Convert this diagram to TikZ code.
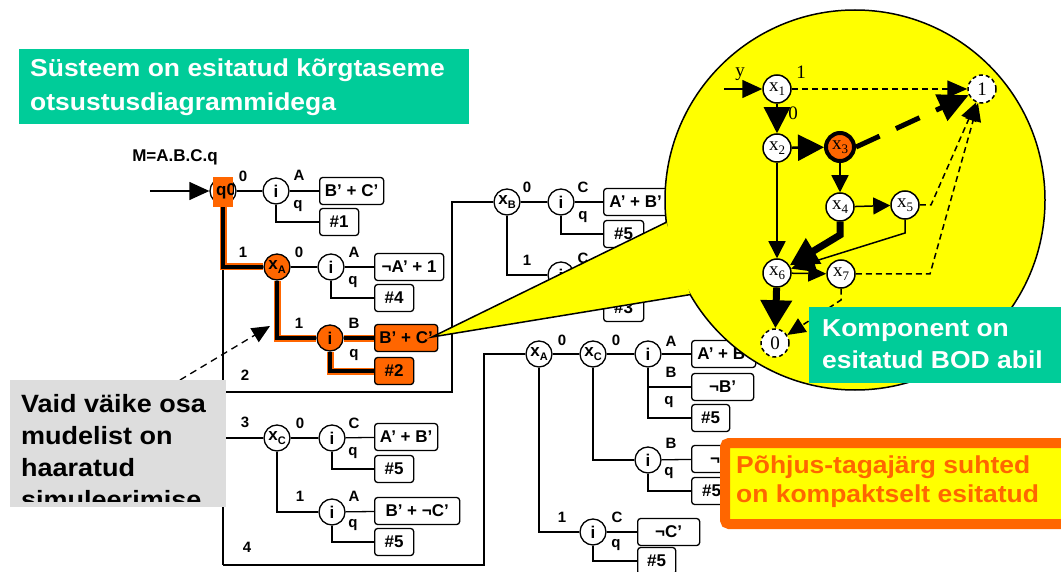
\documentclass[tikz,border=0pt]{standalone}
\usepackage{fontspec}
\setmainfont{Liberation Sans}
\newfontfamily\bddfont{Liberation Serif}
\newfontfamily\callfont[FakeStretch=1.08]{Liberation Sans}
\usetikzlibrary{arrows.meta}
\definecolor{hor}{RGB}{255,102,0}
\definecolor{cyel}{RGB}{255,255,0}
\definecolor{cgreen}{RGB}{0,204,153}
\definecolor{cgray}{RGB}{221,221,221}
\newcommand\treefont{\fontsize{17}{17}\selectfont\bfseries}
\newcommand\lblfont{\fontsize{15}{15}\selectfont\bfseries}
\newcommand\boxfont{\fontsize{17}{17}\selectfont\bfseries}
\newcommand\bddtext{\bddfont\fontsize{19}{19}\selectfont}
\newcommand\calltxt{\callfont\bfseries\fontsize{24.5}{24.5}\selectfont}
\newcommand\xs[1]{x\raisebox{-0.35ex}{\fontsize{11}{11}\selectfont #1}}
\newcommand\bx[1]{x\raisebox{-0.45ex}{\fontsize{13}{13}\selectfont #1}}
\begin{document}
\begin{tikzpicture}[x=1pt,y=-1pt,
  wire/.style={line width=1.3pt},
  hl/.style={line width=4pt, preaction={draw=hor,line width=7pt}},
  tnode/.style={circle,draw,fill=white,line width=1.3pt,minimum size=26pt,inner sep=0pt,font=\treefont},
  hnode/.style={tnode,fill=hor},
  tbox/.style={draw,fill=white,rounded corners=3pt,line width=1.3pt,minimum height=27pt,inner sep=0pt,anchor=west,font=\boxfont},
  hbox/.style={tbox,fill=hor},
  lbl/.style={inner sep=0pt,font=\lblfont},
  bnode/.style={circle,draw,fill=white,line width=1.5pt,minimum size=28pt,inner sep=0pt,font=\bddtext},
  bterm/.style={bnode,dash pattern=on 4pt off 3pt},
  blbl/.style={inner sep=0pt,font=\bddtext},
  thinarr/.style={line width=1.5pt,-{Triangle[length=17pt,width=17pt]}},
  dtarr/.style={line width=1.5pt,dash pattern=on 6pt off 4pt,-{Triangle[length=18pt,width=16pt]}},
  ctext/.style={inner sep=0pt,anchor=base west,font=\calltxt}
]
\clip (0,0) rectangle (1061,572);
\fill[white] (0,0) rectangle (1061,572);

% ---------------- main tree ----------------
\node[lbl,font=\fontsize{17}{17}\selectfont\bfseries] (mlabel) at (175,157) {M=A.B.C.q};

\node[tnode] (i1) at (276,191) {i};
\node[tbox,minimum width=64pt] (b1) at (319,191) {B’ + C’};
\node[tbox,minimum width=39pt] (h1) at (319,222) {\#1};

\node[hnode] (xA) at (277,267) {\xs{A}};
\node[tnode] (i2) at (331,267) {i};
\node[tbox,minimum width=69pt] (b2) at (374,267) {¬A’ + 1};
\node[tbox,minimum width=39pt] (h2) at (374,298) {\#4};

\node[hnode] (i3) at (330,338) {i};
\node[hbox,minimum width=63pt] (b3) at (374,338) {B’ + C’};
\node[hbox,minimum width=39pt] (h3) at (374,371) {\#2};

\node[tnode] (xB) at (507,202) {\xs{B}};
\node[tnode] (i4) at (561,202) {i};
\node[tbox,minimum width=64pt] (b4) at (603,202) {A’ + B’};
\node[tbox,minimum width=40pt] (h4) at (603,234) {\#5};
\node[tnode] (i5) at (561,275) {i};
\node[tbox,minimum width=64pt] (b5) at (603,275) {};
\node[tbox,minimum width=40pt] (h5) at (603,308) {\#3};

\node[tnode] (xC1) at (277,438) {\xs{C}};
\node[tnode] (i6) at (332,438) {i};
\node[tbox,minimum width=63pt] (b6) at (374,437) {A’ + B’};
\node[tbox,minimum width=39pt] (h6) at (374,469) {\#5};
\node[tnode] (i7) at (332,512) {i};
\node[tbox,minimum width=85pt] (b7) at (374,511) {B’ + ¬C’};
\node[tbox,minimum width=39pt] (h7) at (374,542) {\#5};

\node[tnode] (xA2) at (539,354) {\xs{A}};
\node[tnode] (xC2) at (593,354) {\xs{C}};
\node[tnode] (i8) at (648,354) {i};
\node[tbox,minimum width=64pt] (b8) at (691,354) {A’ + B’};
\node[tbox,minimum width=62pt] (b8b) at (691,387) {¬B’};
\node[tbox,minimum width=38pt] (h8) at (691,418) {\#5};
\node[tnode] (i9) at (648,460) {i};
\node[tbox,minimum width=64pt] (b9) at (691,459) {¬B’};
\node[tbox,minimum width=40pt] (h9) at (691,491) {\#5};
\node[tnode] (i10) at (593,532) {i};
\node[tbox,minimum width=62pt] (b10) at (637,532) {¬C’};
\node[tbox,minimum width=38pt] (h10) at (637,561) {\#5};

% q0 node with orange cover
\node[tnode] (q0) at (223,191) {};
\node[fill=hor,minimum width=20pt,minimum height=30pt,inner sep=0pt] (q0box) at (223,192) {};
\begin{scope}
\clip (q0box.south west) rectangle (q0box.north east);
\node[font=\treefont,inner sep=0pt,anchor=west] (q0t) at (216,191) {q0};
\end{scope}
\coordinate (qin) at (150,191);
\draw[wire,-{Triangle[length=20pt,width=18pt]}] (qin) -- (q0);

% main spine
\coordinate (m1) at (223,267);
\coordinate (m2) at (223,392);
\coordinate (m3) at (223,438);
\coordinate (m4) at (223,565);
\coordinate (k2) at (452,392);
\coordinate (k4) at (484,565);
\draw[wire] (m1) -- (m4);
\draw[wire] (m2) -- (k2) |- (xB);
\draw[wire] (m3) -- (xC1);
\draw[wire] (m4) -- (k4) |- (xA2);

% subtree wires
\draw[wire] (q0) -- (i1);
\draw[wire] (i1) -- (b1);
\draw[wire] (i1) |- (h1);
\draw[wire] (xA) -- (i2);
\draw[wire] (i2) -- (b2);
\draw[wire] (i2) |- (h2);
\draw[wire] (xB) -- (i4);
\draw[wire] (i4) -- (b4);
\draw[wire] (i4) |- (h4);
\draw[wire] (xB) |- (i5);
\draw[wire] (i5) -- (b5);
\draw[wire] (i5) |- (h5);
\draw[wire] (xC1) -- (i6);
\draw[wire] (i6) -- (b6);
\draw[wire] (i6) |- (h6);
\draw[wire] (xC1) |- (i7);
\draw[wire] (i7) -- (b7);
\draw[wire] (i7) |- (h7);
\draw[wire] (xA2) -- (xC2);
\draw[wire] (xC2) -- (i8);
\draw[wire] (i8) -- (b8);
\draw[wire] (i8) |- (h8);
\draw[wire] (i8 |- b8b) -- (b8b);
\draw[wire] (xC2) |- (i9);
\draw[wire] (i9) -- (b9);
\draw[wire] (i9) |- (h9);
\draw[wire] (xA2) |- (i10);
\draw[wire] (i10) -- (b10);
\draw[wire] (i10) |- (h10);

% highlighted path
\draw[hl] (q0box.south) |- (xA);
\draw[hl] (xA) |- (i3);
\draw[hl] (i3) -- (b3);
\draw[hl] (i3) |- (h3);

% labels
\node[lbl] (la1) at (243,176) {0};
\node[lbl] (la2) at (299,175) {A};
\node[lbl] (la3) at (298,206) {q};
\node[lbl] (la4) at (243,252) {1};
\node[lbl] (la5) at (299,252) {0};
\node[lbl] (la6) at (354,252) {A};
\node[lbl] (la7) at (353,282) {q};
\node[lbl] (la8) at (299,323) {1};
\node[lbl] (la9) at (354,323) {B};
\node[lbl] (la10) at (354,355) {q};
\node[lbl] (la11) at (245,375) {2};
\node[lbl] (la12) at (245,422) {3};
\node[lbl] (la13) at (300,423) {0};
\node[lbl] (la14) at (354,423) {C};
\node[lbl] (la15) at (353,453) {q};
\node[lbl] (la16) at (300,496) {1};
\node[lbl] (la17) at (354,496) {A};
\node[lbl] (la18) at (353,525) {q};
\node[lbl] (la19) at (247,547) {4};
\node[lbl] (lb1) at (527,187) {0};
\node[lbl] (lb2) at (583,187) {C};
\node[lbl] (lb3) at (583,217) {q};
\node[lbl] (lb4) at (527,260) {1};
\node[lbl] (lb5) at (583,258) {C};
\node[lbl] (lb6) at (583,290) {q};
\node[lbl] (lc1) at (562,340) {0};
\node[lbl] (lc2) at (616,340) {0};
\node[lbl] (lc3) at (671,341) {A};
\node[lbl] (lc4) at (671,372) {B};
\node[lbl] (lc5) at (669,402) {q};
\node[lbl] (lc6) at (671,443) {B};
\node[lbl] (lc7) at (669,473) {q};
\node[lbl] (lc8) at (562,517) {1};
\node[lbl] (lc9) at (617,517) {C};
\node[lbl] (lc10) at (616,545) {q};

% dashed pointer and grey note
\coordinate (da) at (180,380);
\coordinate (db) at (270,326);
\draw[line width=1.3pt,dash pattern=on 7pt off 5pt,-{Triangle[length=18pt,width=16pt]}] (da) -- (db);
\node[fill=cgray,inner sep=0pt,minimum width=216pt,minimum height=127pt,anchor=north west] (gbox) at (10,380) {};
\begin{scope}
\clip (10,380) rectangle (226,501);
\node[ctext,font=\callfont\bfseries\fontsize{25}{25}\selectfont] (g1) at (21,412) {Vaid väike osa};
\node[ctext,font=\callfont\bfseries\fontsize{25}{25}\selectfont] (g2) at (21,444) {mudelist on};
\node[ctext,font=\callfont\bfseries\fontsize{25}{25}\selectfont] (g3) at (21,476) {haaratud};
\node[ctext,font=\callfont\bfseries\fontsize{25}{25}\selectfont] (g4) at (21,508) {simuleerimise};
\end{scope}

% ---------------- yellow callout ----------------
\coordinate (cc) at (855,200);
\coordinate (tip) at (432,337);
\coordinate (wu) at (666.3,222.3);
\coordinate (wl) at (690.2,294.6);
\fill[cyel] (cc) circle[radius=190pt];
\draw[line width=1.5pt] (cc) circle[radius=190pt];
\fill[cyel] (tip) -- (wu) -- (wl) -- cycle;
\draw[line width=1.5pt,line join=miter] (wu) -- (tip) -- (wl);

% BDD
\node[bnode] (x1) at (777,89) {\bx{1}};
\node[bterm] (one) at (982,89) {1};
\node[bnode] (x2) at (777,148) {\bx{2}};
\node[bnode,fill=hor,line width=4pt] (x3) at (840,147) {\bx{3}};
\node[bnode] (x4) at (840,207) {\bx{4}};
\node[bnode] (x5) at (905,205) {\bx{5}};
\node[bnode] (x6) at (777,273) {\bx{6}};
\node[bnode] (x7) at (841,274) {\bx{7}};
\node[bterm] (zero) at (775,343) {0};
\node[blbl] (ly) at (740,74) {y};
\node[blbl] (l1) at (801,72) {1};
\node[blbl] (l0) at (793,113) {0};

\coordinate (yin) at (724,89);
\draw[line width=1.5pt,-{Triangle[length=20pt,width=18pt]}] (yin) -- (x1);
\draw[line width=1.5pt,dash pattern=on 6pt off 4pt,-{Triangle[length=20pt,width=17pt]}] (x1) -- (one);
\draw[line width=2.5pt,-{Triangle[length=26pt,width=26pt]}] (x1) -- (x2);
\draw[line width=2.5pt,-{Triangle[length=26pt,width=26pt]}] (x2) -- (x3);
\draw[line width=5pt,dash pattern=on 26pt off 18pt,-{Triangle[length=30pt,width=28pt]}] (x3.east) -- (one);
\draw[thinarr] (x3) -- (x4);
\draw[thinarr] (x4) -- (x5);
\coordinate (b5) at (931,205);
\coordinate (b7) at (930,274);
\draw[dtarr] (x5.east) -- (b5) -- (one);
\draw[dtarr] (x7.east) -- (b7) -- (one);
\draw[thinarr] (x2) -- (x6);
\coordinate (b4) at (840,235);
\coordinate (b5s) at (905,233);
\draw[line width=1.5pt,-{Triangle[length=24pt,width=22pt]}] (x5.south) -- (b5s) -- (x6);
\draw[line width=7pt,-{Triangle[length=28pt,width=28pt]}] (x4.south) -- (b4) -- (x6);
\draw[line width=1.5pt,-{Triangle[length=18pt,width=16pt]}] (x6) -- (x7);
\draw[line width=7pt,-{Triangle[length=28pt,width=30pt]}] (x6) -- (zero);
\coordinate (b7s) at (841,300);
\draw[dtarr] (x7.south) -- (b7s) -- (zero);

% green BOD note
\node[fill=cgreen,inner sep=0pt,minimum width=252pt,minimum height=76pt,anchor=north west] (gbod) at (809,307) {};
\node[ctext,text=white] (t1) at (822,337) {Komponent on};
\node[ctext,text=white] (t2) at (822,368) {esitatud BOD abil};

% orange note
\node[draw=hor,line width=10pt,fill=cyel,rounded corners=4pt,inner sep=0pt,minimum width=342pt,minimum height=81pt,anchor=north west] (obox) at (720,438) {};
\node[ctext,text=hor] (o1) at (736,473) {Põhjus-tagajärg suhted};
\node[ctext,text=hor] (o2) at (736,502) {on kompaktselt esitatud};

% top green note
\node[fill=cgreen,inner sep=0pt,minimum width=450pt,minimum height=75pt,anchor=north west] (gtop) at (19,49) {};
\node[ctext,text=white] (s1) at (30,77) {Süsteem on esitatud kõrgtaseme};
\node[ctext,text=white] (s2) at (30,111) {otsustusdiagrammidega};
\end{tikzpicture}
\end{document}
